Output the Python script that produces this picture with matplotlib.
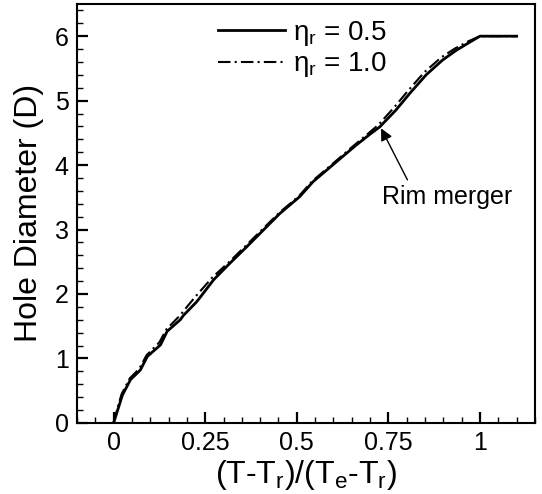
import numpy as np
import matplotlib.pyplot as plt
from matplotlib.ticker import MultipleLocator

plt.rcParams['font.family'] = ['Liberation Sans', 'DejaVu Sans']
plt.rcParams['mathtext.fontset'] = 'custom'
plt.rcParams['mathtext.rm'] = 'Liberation Sans'
plt.rcParams['mathtext.it'] = 'Liberation Sans'
plt.rcParams['mathtext.default'] = 'regular'

# hole growth, eta_r = 0.5
t_05 = [0.0, 0.014, 0.024, 0.046, 0.073, 0.092, 0.128, 0.146, 0.182, 0.191, 0.227,
        0.273, 0.318, 0.363, 0.454, 0.508, 0.544, 0.608, 0.66, 0.70, 0.726, 0.77,
        0.808, 0.853, 0.898, 0.935, 0.97, 1.0, 1.1]
d_05 = [0.0, 0.25, 0.43, 0.67, 0.82, 1.03, 1.21, 1.42, 1.60, 1.67, 1.88,
        2.22, 2.48, 2.73, 3.25, 3.51, 3.74, 4.05, 4.30, 4.48, 4.59, 4.85,
        5.11, 5.40, 5.63, 5.78, 5.90, 6.0, 6.0]

# hole growth, eta_r = 1.0
t_10 = [0.0, 0.012, 0.022, 0.044, 0.07, 0.09, 0.125, 0.144, 0.18, 0.19, 0.222,
        0.27, 0.316, 0.361, 0.452, 0.506, 0.542, 0.606, 0.657, 0.697, 0.722, 0.765,
        0.803, 0.848, 0.894, 0.932, 0.968, 1.0, 1.1]
d_10 = [0.0, 0.26, 0.45, 0.69, 0.84, 1.05, 1.25, 1.45, 1.66, 1.73, 1.95,
        2.26, 2.50, 2.75, 3.26, 3.52, 3.75, 4.06, 4.31, 4.50, 4.62, 4.89,
        5.15, 5.44, 5.67, 5.81, 5.92, 6.0, 6.0]

fig = plt.figure(figsize=(5.42, 4.94), dpi=100)
ax = fig.add_axes([0.142, 0.144, 0.845, 0.848])

ax.plot(t_05, d_05, color='black', lw=2.0, label=r'$\eta_r$ = 0.5')
ax.plot(t_10, d_10, color='black', lw=1.5, linestyle=(0, (6, 2, 1, 2)),
        label=r'$\eta_r$ = 1.0')

ax.set_xlim(-0.1, 1.15)
ax.set_ylim(0, 6.5)
ax.set_xticks([0, 0.25, 0.5, 0.75, 1])
ax.set_xticklabels(['0', '0.25', '0.5', '0.75', '1'])
ax.xaxis.set_minor_locator(MultipleLocator(0.05))
ax.yaxis.set_major_locator(MultipleLocator(1))
ax.yaxis.set_minor_locator(MultipleLocator(0.2))

ax.tick_params(which='both', direction='in', top=False, right=False, labelsize=18)
ax.tick_params(which='major', length=8, width=1.6, pad=6)
ax.tick_params(which='minor', length=4.5, width=1.0)
for s in ax.spines.values():
    s.set_linewidth(1.5)

ax.set_xlabel(r'(T-T$_r$)/(T$_e$-T$_r$)', fontsize=23, labelpad=2)
ax.set_ylabel('Hole Diameter (D)', fontsize=23, labelpad=8)

# arrow and label for the rim merger point
ax.annotate('', xy=(0.73, 4.57), xytext=(0.802, 3.77),
            arrowprops=dict(arrowstyle='-|>', color='black', lw=1.0,
                            shrinkA=0, shrinkB=0, mutation_scale=18))
ax.text(0.911, 3.50, 'Rim merger', fontsize=18, ha='center', va='center')

ax.legend(loc='upper left', bbox_to_anchor=(0.308, 0.965), frameon=False,
          fontsize=20, handlelength=2.4, handletextpad=0.3,
          labelspacing=0.1, borderpad=0, borderaxespad=0)

fig.savefig('out.png', dpi=100)
